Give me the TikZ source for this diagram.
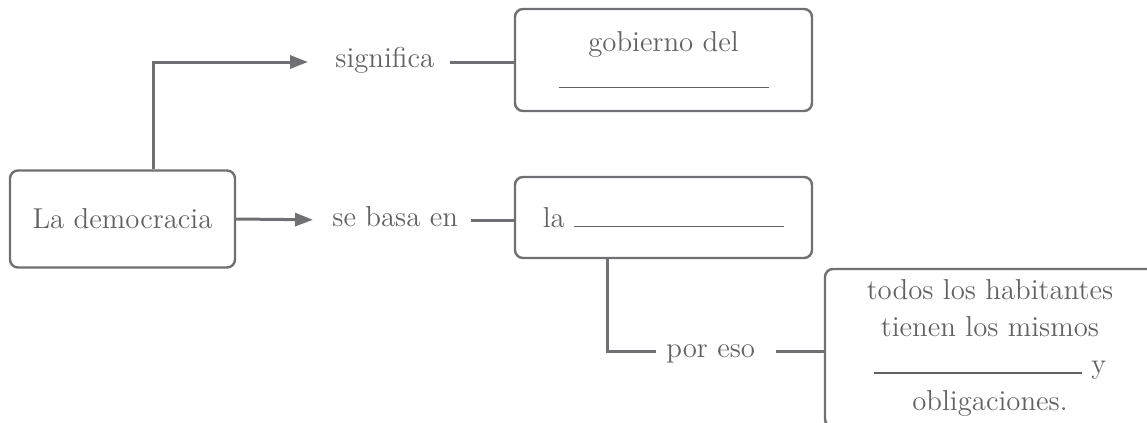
\documentclass[tikz,border=0pt]{standalone}
\usetikzlibrary{arrows.meta}
\definecolor{mapgray}{RGB}{112,112,116}
\definecolor{textgray}{RGB}{98,98,100}
\newcommand{\hueco}{\rule{105pt}{0.6pt}}
\begin{document}
\begin{tikzpicture}[x=0.5pt,y=-0.5pt,
   every node/.style={text=textgray, font=\fontsize{14.4}{18.5}\selectfont},
   box/.style={draw=mapgray, line width=1.2pt, rounded corners=4pt,
               align=center, inner sep=0pt},
   word/.style={anchor=west, inner sep=0pt, text height=6pt, text depth=0pt},
   link/.style={draw=mapgray, line width=1.5pt},
   arrow/.style={link, -{Triangle[length=9pt,width=6.5pt]}}]

\useasboundingbox (0,0) rectangle (1147,423);
\clip (0,0) rectangle (1147,423);

\node[box, minimum width=112.5pt, minimum height=48.5pt] (dem) at (122.5,219) {La democracia};
\node[word] (sig) at (335,62) {significa};
\node[word] (base) at (332,220) {se basa en};
\node[word] (por) at (666,351) {por eso};

\node[box, minimum width=148.5pt, minimum height=51pt] (gob) at (663.5,60)
    {gobierno del\\\hueco};
\node[box, minimum width=148.5pt, minimum height=40.5pt] (la) at (663.5,217.5)
    {la \hueco};
\node[box, minimum width=165pt, minimum height=79pt] (todos) at (990,348)
    {todos los habitantes\\tienen los mismos\\\rule{104pt}{0.6pt} y\\obligaciones.};

\draw[arrow, shorten >=13.5pt] ([xshift=15.25pt]dem.north) |- (sig.west);
\draw[link, shorten <=7.5pt] (sig.east) -- (sig.east -| gob.west);
\draw[arrow, shorten >=9.5pt] (dem.east) -- (base.west);
\draw[link, shorten <=6.5pt] (base.east) -- (base.east -| la.west);
\draw[link, shorten >=5pt] ([xshift=-28.25pt]la.south) |- (por.west);
\draw[link, shorten <=10.5pt] (por.east) -- (por.east -| todos.west);

\end{tikzpicture}
\end{document}
